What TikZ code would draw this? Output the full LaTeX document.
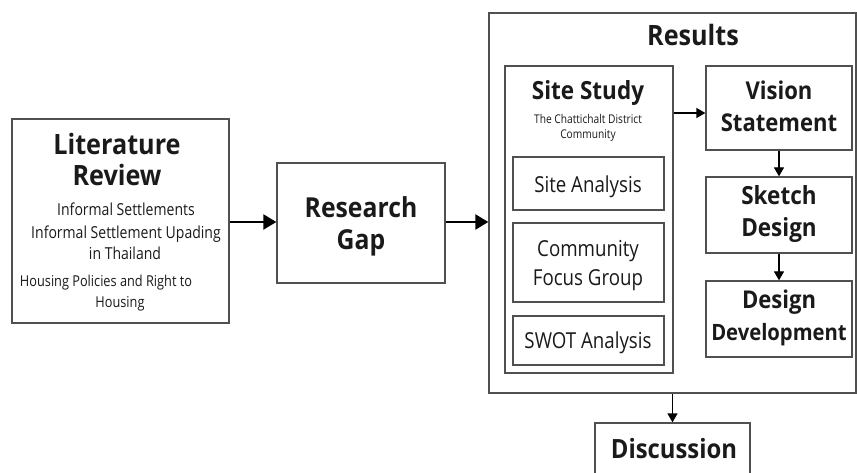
\documentclass[tikz,border=0pt]{standalone}
\usepackage{fontspec}
\setmainfont{Open Sans}
\newfontfamily\tfont{Open Sans Bold}[FakeStretch=0.9]
\newfontfamily\rfont{Open Sans}[FakeStretch=0.85]
\usetikzlibrary{arrows.meta}
\definecolor{linec}{HTML}{505050}
\definecolor{textc}{HTML}{1A1A1A}
\tikzset{
  box/.style={draw=linec, line width=1.3pt, inner sep=0pt},
  txt/.style={inner sep=0pt, text=textc, anchor=base},
  ttl/.style={txt, font=\tfont\fontsize{24}{28}\selectfont},
  sub/.style={txt, font=\rfont\fontsize{16.5}{20}\selectfont},
  mid/.style={txt, font=\rfont\fontsize{22}{26}\selectfont},
  big/.style={line width=2.2pt, draw=black, -{Triangle[length=13pt,width=15pt]}},
  small/.style={line width=1.3pt, draw=black, -{Triangle[length=9pt,width=10pt]}}
}
\begin{document}
\begin{tikzpicture}[x=1pt,y=-1pt]
\useasboundingbox[fill=white] (0,0) rectangle (857,473);
% Literature review
\node[box, minimum width=217pt, minimum height=204pt] (lit) at (120.5,221) {};
\node[ttl, font=\tfont\fontsize{28}{30}\selectfont] (litA) at (117,155) {Literature};
\node[ttl, font=\tfont\fontsize{28}{30}\selectfont] (litB) at (117,186) {Review};
\node[sub] (l1) at (126,216) {Informal Settlements};
\node[sub] (l2) at (126,239) {Informal Settlement Upading};
\node[sub] (l3) at (125,260) {in Thailand};
\node[sub, font=\rfont\fontsize{15}{18}\selectfont] (l4) at (106,287) {Housing Policies and Right to};
\node[sub, font=\rfont\fontsize{15}{18}\selectfont] (l5) at (120,307) {Housing};
% Research gap
\node[box, minimum width=168pt, minimum height=120pt] (gap) at (361,223) {};
\node[ttl, font=\tfont\fontsize{27.5}{30}\selectfont] (gapA) at (361,218) {Research};
\node[ttl, font=\tfont\fontsize{27.5}{30}\selectfont] (gapB) at (361,250) {Gap};
% Results
\node[box, minimum width=367pt, minimum height=380pt] (res) at (672.5,203) {};
\node[ttl, font=\tfont\fontsize{28}{30}\selectfont] (resT) at (693,46) {Results};
% Site study
\node[box, minimum width=168pt, minimum height=307pt] (site) at (589,219.5) {};
\node[ttl, font=\tfont\fontsize{25}{28}\selectfont] (siteT) at (588,100) {Site Study};
\node[txt, font=\rfont\fontsize{12}{14}\selectfont] (siteS1) at (588,124) {The Chattichalt District};
\node[txt, font=\rfont\fontsize{12}{14}\selectfont] (siteS2) at (588,139) {Community};
\node[box, minimum width=151pt, minimum height=53pt] (sa) at (588.5,183.5) {};
\node[mid] (saT) at (588,193) {Site Analysis};
\node[box, minimum width=151pt, minimum height=79pt] (cfg) at (588.5,262.5) {};
\node[mid] (cfgA) at (588,257) {Community};
\node[mid] (cfgB) at (588,285) {Focus Group};
\node[box, minimum width=151pt, minimum height=49pt] (swot) at (588.5,340.5) {};
\node[mid] (swotT) at (588,348) {SWOT Analysis};
% Right column
\node[box, minimum width=146pt, minimum height=84pt] (vis) at (779,108) {};
\node[ttl, font=\tfont\fontsize{24.5}{28}\selectfont] (visA) at (779,100) {Vision};
\node[ttl, font=\tfont\fontsize{24.5}{28}\selectfont] (visB) at (779,132) {Statement};
\node[box, minimum width=146pt, minimum height=76pt] (sk) at (779,215) {};
\node[ttl, font=\tfont\fontsize{25}{28}\selectfont] (skA) at (779,205) {Sketch};
\node[ttl, font=\tfont\fontsize{25}{28}\selectfont] (skB) at (779,237) {Design};
\node[box, minimum width=146pt, minimum height=76pt] (dd) at (779,319) {};
\node[ttl, font=\tfont\fontsize{24.5}{28}\selectfont] (ddA) at (779,308) {Design};
\node[ttl, font=\tfont\fontsize{22.5}{28}\selectfont] (ddB) at (779,340) {Development};
% Discussion
\node[box, minimum width=155pt, minimum height=60pt] (dis) at (672.5,453) {};
\node[ttl, font=\tfont\fontsize{26.5}{30}\selectfont] (disT) at (674,458) {Discussion};
% Connectors
\coordinate (ya) at (0,222);
\coordinate (yb) at (0,113);
\draw[big] (lit.east |- ya) -- (gap.west |- ya);
\draw[big] (gap.east |- ya) -- (res.west |- ya);
\draw[small] (site.east |- yb) -- (vis.west |- yb);
\draw[small] (vis.south) -- (sk.north);
\draw[small] (sk.south) -- (dd.north);
\draw[small] (res.south -| dis.north) -- (dis.north);
\end{tikzpicture}
\end{document}
